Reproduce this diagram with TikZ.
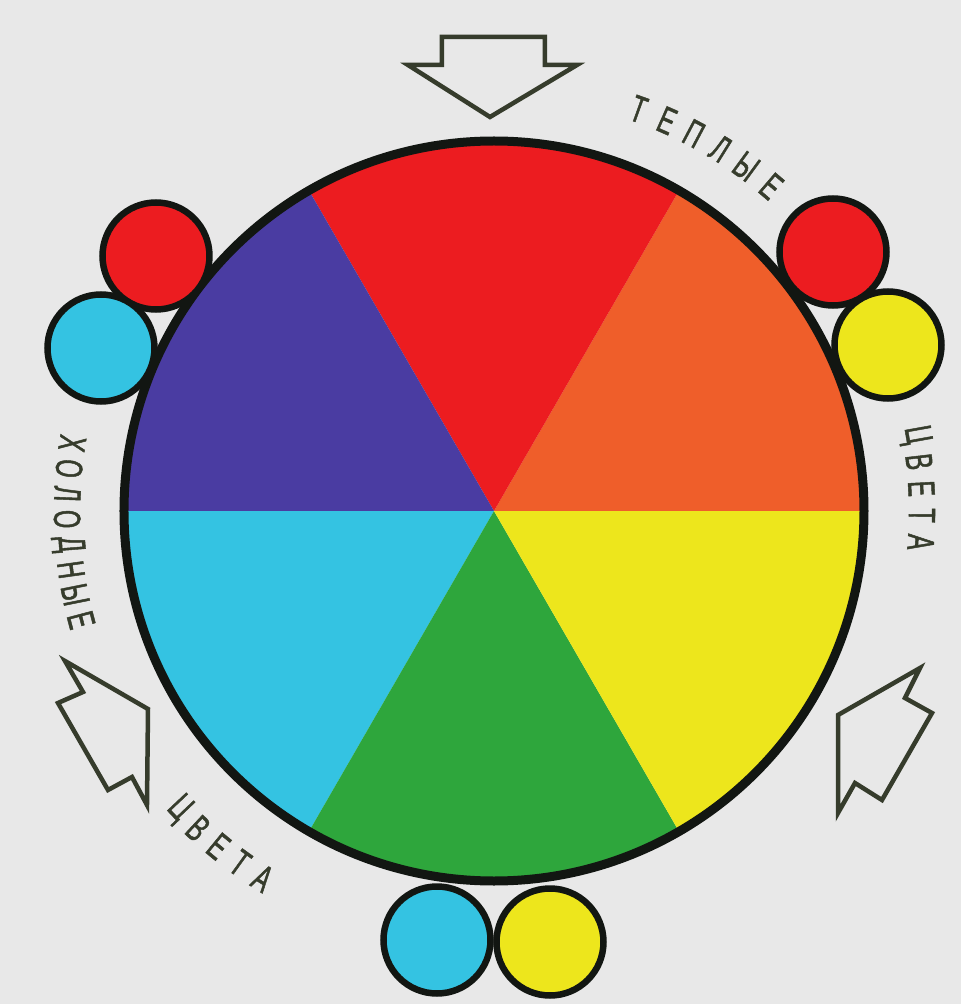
\documentclass[tikz,border=0pt]{standalone}
\usepackage{fontspec}
\newfontfamily\lblfont[FakeStretch=0.62,FakeBold=1.2]{Liberation Sans}
\definecolor{bgc}{HTML}{E8E8E8}
\definecolor{cred}{HTML}{EC1C20}
\definecolor{corange}{HTML}{EF5E2A}
\definecolor{cyellow}{HTML}{EDE61C}
\definecolor{cgreen}{HTML}{2EA63C}
\definecolor{ccyan}{HTML}{34C3E2}
\definecolor{cpurple}{HTML}{4A3CA2}
\definecolor{cborder}{HTML}{121612}
\definecolor{cink}{HTML}{363C2C}
\begin{document}
\begin{tikzpicture}[x=1pt,y=1pt,
  dot/.style={circle, draw=cborder, line width=6.5pt, minimum size=107pt, inner sep=0pt},
  outarrow/.style={draw=cink, line width=4.5pt, line join=miter, fill=none},
  lett/.style={inner sep=0pt, text=cink, font=\lblfont\fontsize{38}{38}\selectfont}]
\useasboundingbox (-494,-493) rectangle (467,511);
\fill[bgc] (-494,-493) rectangle (467,511);
% sectors
\coordinate (c) at (0,0);
\fill[corange] (c) -- (0:370) arc[start angle=0, end angle=60, radius=370] -- cycle;
\fill[cred] (c) -- (60:370) arc[start angle=60, end angle=120, radius=370] -- cycle;
\fill[cpurple] (c) -- (120:370) arc[start angle=120, end angle=180, radius=370] -- cycle;
\fill[ccyan] (c) -- (180:370) arc[start angle=180, end angle=240, radius=370] -- cycle;
\fill[cgreen] (c) -- (240:370) arc[start angle=240, end angle=300, radius=370] -- cycle;
\fill[cyellow] (c) -- (300:370) arc[start angle=300, end angle=360, radius=370] -- cycle;
\draw[cborder, line width=9pt] (c) circle[radius=370];
% small circles
\node[dot, fill=cred] (tlred) at (-338,255) {};
\node[dot, fill=ccyan] (lcyan) at (-393,163) {};
\node[dot, fill=cred] (trred) at (339,259) {};
\node[dot, fill=cyellow] (ryellow) at (394,166) {};
\node[dot, fill=ccyan] (bcyan) at (-57,-429) {};
\node[dot, fill=cyellow] (byellow) at (56,-431) {};
% arrows
\draw[outarrow] (-52,474) -- (51,474) -- (51,446) -- (83,446) -- (-4,394) -- (-86,446) -- (-52,446) -- cycle;
\draw[outarrow] (-429,-150) -- (-346,-198) -- (-347,-294) -- (-362,-266) -- (-386,-279) -- (-436,-192) -- (-411,-181) -- cycle;
\draw[outarrow] (426,-157) -- (411,-187) -- (438,-202) -- (388,-289) -- (361,-272) -- (344,-302) -- (344,-204) -- cycle;
% texts
\foreach \a/\c [count=\i] in {70.2/Т,66.1/Е,62.1/П,58.0/Л,53.8/Ы,49.5/Е}
  \node[lett, rotate=\a-90] (warm\i) at (\a:427) {\c};
\foreach \a/\c [count=\i] in {10.2/Ц,6.6/В,3.0/Е,-0.6/Т,-4.2/А}
  \node[lett, rotate=\a-90] (warmb\i) at (\a:428) {\c};
\foreach \a/\c [count=\i] in {170.9/Х,174.3/О,177.7/Л,181.1/О,184.5/Д,187.9/Н,191.3/Ы,194.8/Е}
  \node[lett, rotate=\a+90] (cold\i) at (\a:427) {\c};
\foreach \a/\c [count=\i] in {223.4/Ц,227.0/В,230.6/Е,234.2/Т,237.8/А}
  \node[lett, rotate=\a+90] (coldb\i) at (\a:434) {\c};
\end{tikzpicture}
\end{document}
